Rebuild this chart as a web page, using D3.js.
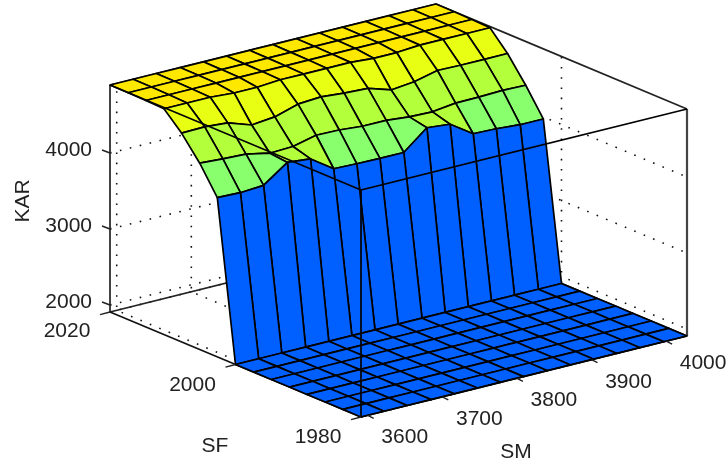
<!DOCTYPE html>
<html>
<head>
<meta charset="utf-8">
<script src="https://d3js.org/d3.v7.min.js"></script>
<style>
  html, body { margin: 0; background: #fff; }
  svg { filter: blur(0.35px); }
  text { font-family: "Liberation Sans", Arial, sans-serif; font-size: 21px; fill: #222; }
</style>
</head>
<body>
<svg id="chart"></svg>
<script>
var width = 726,
    height = 466;

// axis limits and ticks
var smLimits = [3591, 4028],
    sfLimits = [1980, 2020],
    karLimits = [1908, 4895];
var smTicks = [3600, 3700, 3800, 3900, 4000],
    sfTicks = [1980, 2000, 2020],
    karTicks = [2000, 3000, 4000];

// gensurf grid, 15 x 15
var smGrid = [3591, 3622, 3653, 3685, 3716, 3747, 3778, 3809, 3841, 3872, 3903, 3934, 3965, 3997, 4028];
var sfGrid = [1980, 1982.9, 1985.7, 1988.6, 1991.4, 1994.3, 1997.1, 2000, 2002.9, 2005.7, 2008.6, 2011.4, 2014.3, 2017.1, 2020];

// KAR values, one row per sfGrid step
var karFloor = [1908, 1908, 1908, 1908, 1908, 1908, 1908, 1908, 1908, 1908, 1908, 1908, 1908, 1908, 1908];
var kar8  = [4003, 3993, 4013, 4238, 4208, 4003, 3993, 3988, 3988, 4238, 4208, 4008, 3998, 3973, 3973];
var kar9  = [4360, 4341, 4328, 4262, 4275, 4347, 4341, 4314, 4314, 4284, 4275, 4314, 4318, 4328, 4320];
var kar10 = [4656, 4663, 4639, 4533, 4564, 4656, 4677, 4650, 4635, 4538, 4570, 4643, 4637, 4635, 4638];
var kar11 = [4880, 4880, 4880, 4858, 4858, 4880, 4880, 4880, 4880, 4858, 4858, 4880, 4880, 4880, 4880];
var kar12 = [4888, 4888, 4888, 4888, 4888, 4888, 4888, 4888, 4888, 4888, 4888, 4888, 4888, 4888, 4888];
var kar13 = [4893, 4893, 4893, 4893, 4893, 4893, 4893, 4893, 4893, 4893, 4893, 4893, 4893, 4893, 4893];
var kar14 = [4895, 4895, 4895, 4895, 4895, 4895, 4895, 4895, 4895, 4895, 4895, 4895, 4895, 4895, 4895];
var karRows = [karFloor, karFloor, karFloor, karFloor, karFloor, karFloor, karFloor, karFloor,
               kar8, kar9, kar10, kar11, kar12, kar13, kar14];

// flat colours of the faces
var colorBreaks = [3500, 4090, 4460, 4760],
    colorSteps = ["#0060ff", "#8aff6e", "#b4ff3c", "#e8ff14", "#ffe800"];
var color = d3.scaleThreshold().domain(colorBreaks).range(colorSteps);

// oblique view: every screen position is a sum of three axis offsets
var origin = [361, 417];
var smX = d3.scaleLinear().domain(smLimits).range([0, 326]),
    smY = d3.scaleLinear().domain(smLimits).range([0, -81]),
    sfX = d3.scaleLinear().domain(sfLimits).range([0, -251]),
    sfY = d3.scaleLinear().domain(sfLimits).range([0, -105]),
    karY = d3.scaleLinear().domain(karLimits).range([0, -227]);

var project = function(sm, sf, k) {
  return [origin[0] + smX(sm) + sfX(sf),
          origin[1] + smY(sm) + sfY(sf) + karY(k)];
};

var line = d3.line();

var chart = d3.select("#chart")
    .attr("width", width)
    .attr("height", height)
    .style("display", "block");

var smMin = smLimits[0], smMax = smLimits[1],
    sfMin = sfLimits[0], sfMax = sfLimits[1],
    kMin = karLimits[0], kMax = karLimits[1];

// dotted grid on the back walls and floor
var gridLines = [];
karTicks.forEach(function(k) {
  gridLines.push([project(smMin, sfMax, k), project(smMax, sfMax, k), project(smMax, sfMin, k)]);
});
smTicks.forEach(function(s) {
  gridLines.push([project(s, sfMin, kMin), project(s, sfMax, kMin), project(s, sfMax, kMax)]);
});
sfTicks.forEach(function(s) {
  gridLines.push([project(smMin, s, kMin), project(smMax, s, kMin), project(smMax, s, kMax)]);
});

chart.append("g").selectAll("path")
    .data(gridLines)
    .enter().append("path")
    .attr("d", line)
    .attr("fill", "none")
    .attr("stroke", "#111")
    .attr("stroke-width", 1.6)
    .attr("stroke-dasharray", "1.6 8.6");

// box edges behind the surface
var backEdges = [
  [project(smMin, sfMax, kMin), project(smMax, sfMax, kMin)],
  [project(smMax, sfMax, kMin), project(smMax, sfMin, kMin)],
  [project(smMin, sfMax, kMax), project(smMax, sfMax, kMax)],
  [project(smMax, sfMax, kMax), project(smMax, sfMin, kMax)],
  [project(smMin, sfMax, kMin), project(smMin, sfMax, kMax)],
  [project(smMax, sfMax, kMin), project(smMax, sfMax, kMax)]
];
chart.append("g").selectAll("path")
    .data(backEdges)
    .enter().append("path")
    .attr("d", line)
    .attr("fill", "none")
    .attr("stroke", "#222")
    .attr("stroke-width", 1.7);

chart.append("path")
    .attr("d", line([project(smMax, sfMin, kMin), project(smMax, sfMin, kMax)]))
    .attr("stroke", "#444")
    .attr("stroke-width", 2.2);

chart.append("path")
    .attr("d", line([project(smMin, sfMin, kMin), project(smMin, sfMax, kMin)]))
    .attr("stroke", "#111")
    .attr("stroke-width", 1.7);

// surface faces, far ones first
var faces = [];
for (var i = sfGrid.length - 2; i >= 0; i--) {
  for (var j = smGrid.length - 2; j >= 0; j--) {
    faces.push({
      k: karRows[i][j],
      pts: [
        project(smGrid[j], sfGrid[i], karRows[i][j]),
        project(smGrid[j + 1], sfGrid[i], karRows[i][j + 1]),
        project(smGrid[j + 1], sfGrid[i + 1], karRows[i + 1][j + 1]),
        project(smGrid[j], sfGrid[i + 1], karRows[i + 1][j])
      ]
    });
  }
}

chart.append("g").selectAll("path")
    .data(faces)
    .enter().append("path")
    .attr("d", function(d) { return line(d.pts) + "Z"; })
    .attr("fill", function(d) { return color(d.k); })
    .attr("stroke", "#000")
    .attr("stroke-width", 1.7)
    .attr("stroke-linejoin", "round");

// box edges drawn over the surface
var frontEdges = [
  [project(smMin, sfMax, kMax), project(smMin, sfMin, kMax)],
  [project(smMin, sfMin, kMax), project(smMax, sfMin, kMax)],
  [project(smMin, sfMin, kMin), project(smMin, sfMin, kMax)],
  [project(smMin, sfMin, kMin), project(smMax, sfMin, kMin)]
];
chart.append("g").selectAll("path")
    .data(frontEdges)
    .enter().append("path")
    .attr("d", line)
    .attr("fill", "none")
    .attr("stroke", "#000")
    .attr("stroke-width", 1.7);

// ticks and tick labels
var ticks = chart.append("g");
var tick = function(p, dx, dy) {
  ticks.append("path")
      .attr("d", line([p, [p[0] + dx, p[1] + dy]]))
      .attr("stroke", "#222")
      .attr("stroke-width", 1.4);
};
var label = function(x, y, txt, anchor) {
  return chart.append("text")
      .attr("x", x)
      .attr("y", y)
      .attr("text-anchor", anchor || "middle")
      .text(txt);
};

karTicks.forEach(function(k) {
  var p = project(smMin, sfMax, k);
  tick(p, -8, -3);
  label(p[0] - 18, p[1] + 3, k, "end");
});
sfTicks.forEach(function(s) {
  var p = project(smMin, s, kMin);
  tick(p, -10, 2.6);
  label(p[0] - 43, p[1] + (s == 2020 ? 25 : 26), s);
});
smTicks.forEach(function(s) {
  var p = project(s, sfMin, kMin);
  tick(p, 6, 3);
  label(p[0] + 37, p[1] + 28, s);
});

label(215, 452, "SF");
label(516, 458, "SM");
label(0, 0, "KAR").attr("transform", "translate(29,201) rotate(-90)");
</script>
</body>
</html>
